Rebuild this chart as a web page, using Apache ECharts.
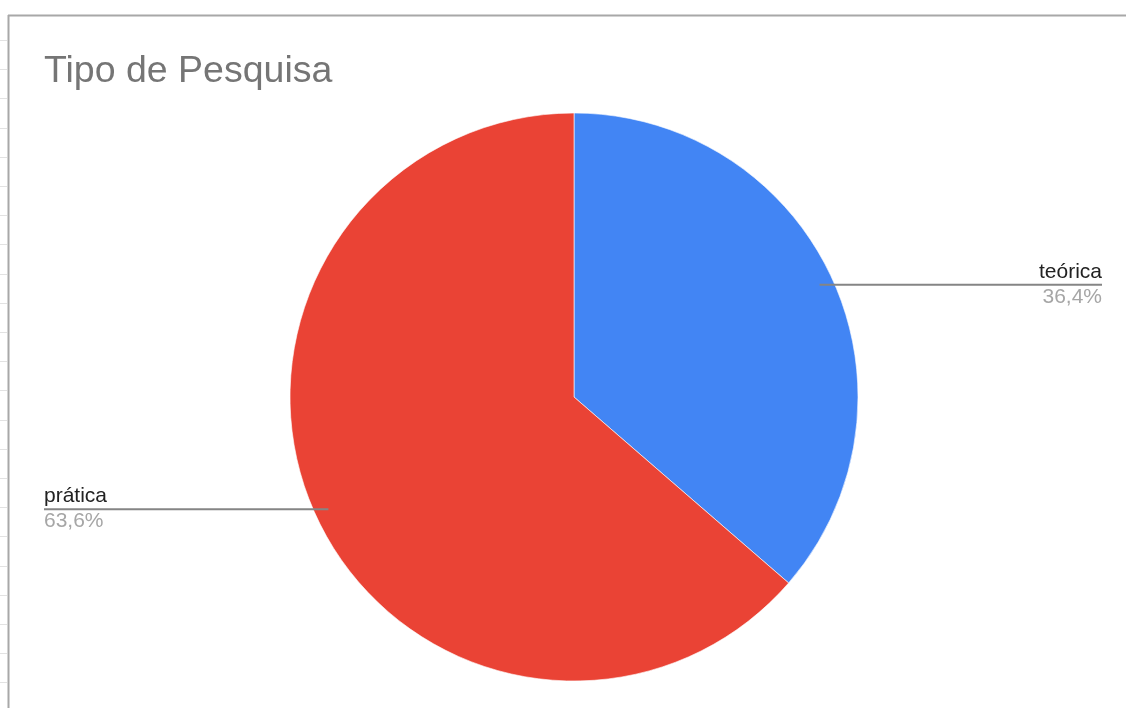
<!DOCTYPE html>
<html>
<head>
<meta charset="utf-8">
<title>Tipo de Pesquisa</title>
<script src="https://cdn.jsdelivr.net/npm/echarts@6/dist/echarts.min.js"></script>
<style>
  html, body { margin: 0; padding: 0; background: #ffffff; }
  #chart { width: 1126px; height: 708px; }
</style>
</head>
<body>
<div id="chart"></div>
<script>
// Survey answers: kind of research
const chartTitle = 'Tipo de Pesquisa';
const categories = ['teórica', 'prática'];
const counts = [4, 7];
const sliceColors = ['#4285F4', '#EA4335'];

const chart = echarts.init(document.getElementById('chart'), null, { renderer: 'canvas' });

// Faint spreadsheet row marks along the left margin
const rowMarks = [];
for (let y = 40; y < 708; y += 29.2) {
  rowMarks.push({
    type: 'line', silent: true, z: 0,
    shape: { x1: 0, y1: Math.round(y) + 0.5, x2: 7, y2: Math.round(y) + 0.5 },
    style: { stroke: '#e2e2e2', lineWidth: 1 }
  });
}

const INSET = 14; // how far the leader line reaches into the slice
const FONT = 'Liberation Sans, Arial, sans-serif';

// Shared geometry of the pie (both layers use it)
const pieGeometry = {
  type: 'pie',
  left: 20,
  right: 0,
  top: 0,
  bottom: 0,
  center: [554, 397],
  radius: 284,
  startAngle: 90,
  clockwise: true,
  emphasis: { disabled: true },
  animation: false
};

const sliceData = categories.map((name, i) => ({
  name: name,
  value: counts[i],
  itemStyle: { color: sliceColors[i] }
}));

chart.setOption({
  backgroundColor: '#ffffff',
  animation: false,
  title: {
    text: chartTitle,
    left: 39,
    top: 48,
    textStyle: {
      fontFamily: FONT,
      fontSize: 37.5,
      fontWeight: 'normal',
      color: '#757575'
    }
  },
  graphic: [
    {
      type: 'line', silent: true, z: 1,
      shape: { x1: 8, y1: 15.5, x2: 1126, y2: 15.5 },
      style: { stroke: '#a8a8a8', lineWidth: 2 }
    },
    {
      type: 'line', silent: true, z: 1,
      shape: { x1: 8.5, y1: 15, x2: 8.5, y2: 708 },
      style: { stroke: '#a8a8a8', lineWidth: 2 }
    }
  ].concat(rowMarks),
  series: [
    // coloured slices
    Object.assign({}, pieGeometry, {
      z: 2,
      data: sliceData,
      itemStyle: { borderColor: 'rgba(255,255,255,0.6)', borderWidth: 1 },
      label: { show: false },
      labelLine: { show: false }
    }),
    // transparent layer on top carrying the labels and leader lines
    Object.assign({}, pieGeometry, {
      z: 4,
      silent: true,
      data: categories.map((name, i) => ({ name: name, value: counts[i] })),
      itemStyle: { color: 'rgba(0,0,0,0)', borderWidth: 0 },
      label: {
        show: true,
        position: 'outside',
        alignTo: 'edge',
        edgeDistance: 24,
        formatter: p => '{n|' + p.name + '}\n{p|' + p.percent.toFixed(1).replace('.', ',') + '%}',
        rich: {
          n: { fontFamily: FONT, fontSize: 21, color: '#222222', lineHeight: 23, padding: [0, 0, 2, 0] },
          p: { fontFamily: FONT, fontSize: 21, color: '#a6a6a6', lineHeight: 23, padding: [2, 0, 0, 0] }
        }
      },
      labelLine: {
        show: true,
        length: 2,
        length2: 10,
        lineStyle: { color: '#858585', width: 2 }
      },
      labelLayout: function (params) {
        const pts = params.labelLinePoints;
        const rect = params.labelRect;
        if (!pts || pts.length < 2) return {};
        const p0 = pts[0], p1 = pts[1];
        const dx = p1[0] - p0[0], dy = p1[1] - p0[1];
        const len = Math.sqrt(dx * dx + dy * dy) || 1;
        const sx = p0[0] - dx / len * INSET;
        const sy = p0[1] - dy / len * INSET;
        const isRight = sx < rect.x;
        const endX = isRight ? rect.x + rect.width : rect.x;
        const shift = sy - pts[pts.length - 1][1];
        return {
          dy: shift,
          labelLinePoints: [[sx, sy], [(sx + endX) / 2, sy], [endX, sy]]
        };
      }
    })
  ]
});
</script>
</body>
</html>
